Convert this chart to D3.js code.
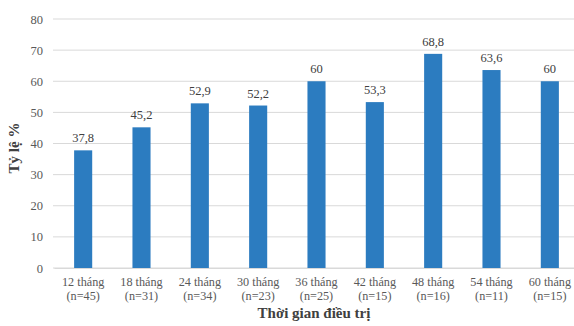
<!DOCTYPE html>
<html><head><meta charset="utf-8">
<script src="https://cdn.jsdelivr.net/npm/d3@7"></script>
<style>body{margin:0;background:#fff}svg{display:block}text{font-family:"Liberation Serif","Times New Roman",serif}</style>
</head><body>
<svg id="c" width="574" height="326"></svg>
<script>
const months = ["12 tháng","18 tháng","24 tháng","30 tháng","36 tháng","42 tháng","48 tháng","54 tháng","60 tháng"];
const counts = ["(n=45)","(n=31)","(n=34)","(n=23)","(n=25)","(n=15)","(n=16)","(n=11)","(n=15)"];
const values = [37.8,45.2,52.9,52.2,60,53.3,68.8,63.6,60];
const yTicks = [0,10,20,30,40,50,60,70,80];
const yTitle = "Tỷ lệ %";
const xTitle = "Thời gian điều trị";

const svg = d3.select("#c");
const font = "Liberation Serif, Times New Roman, serif";
const x = d3.scaleBand().domain(months).range([54,579]).paddingInner(0.69).paddingOuter(0.345);
const y = d3.scaleLinear().domain([0,80]).range([268,19]);

// grid
svg.append("g").selectAll("line").data(yTicks).join("line")
  .attr("x1",53).attr("x2",574).attr("y1",d=>y(d)).attr("y2",d=>y(d))
  .attr("stroke","#d9d9d9").attr("stroke-width",1);

// y axis labels
const ya = svg.append("g").attr("transform","translate(53,0)")
  .call(d3.axisLeft(y).tickValues(yTicks).tickSize(0).tickPadding(10).tickFormat(d3.format("d")));
ya.attr("font-family",font);
ya.select(".domain").remove();
ya.selectAll("text").attr("font-family",font).attr("font-size",12.5).attr("fill","#595959");

// bars
svg.append("g").selectAll("rect").data(values).join("rect")
  .attr("x",(d,i)=>x(months[i])).attr("width",x.bandwidth())
  .attr("y",d=>y(d)).attr("height",d=>y(0)-y(d)).attr("fill","#2c7cc0");

// value labels
svg.append("g").selectAll("text").data(values).join("text")
  .attr("x",(d,i)=>x(months[i])+x.bandwidth()/2).attr("y",d=>y(d)-8)
  .attr("text-anchor","middle").attr("font-family",font).attr("font-size",12.5).attr("fill","#404040")
  .text(d=>String(d).replace(".",","));

// x axis labels (two lines, separate text elements)
const xa = svg.append("g").attr("transform","translate(0,268)")
  .call(d3.axisBottom(x).tickSize(0).tickFormat(()=>""));
xa.attr("font-family",font);
xa.select(".domain").attr("stroke","#d9d9d9");
xa.selectAll(".tick text").remove();
xa.selectAll(".tick").each(function(d,i){
  const g=d3.select(this);
  g.append("text").attr("y",18).attr("text-anchor","middle").attr("font-family",font).attr("font-size",12.2).attr("fill","#595959").text(months[i]);
  g.append("text").attr("y",31.5).attr("text-anchor","middle").attr("font-family",font).attr("font-size",12.2).attr("fill","#595959").text(counts[i]);
});

// titles
svg.append("text").attr("x",314).attr("y",318).attr("text-anchor","middle")
  .attr("font-family",font).attr("font-weight","bold").attr("font-size",15).attr("fill","#404040").text(xTitle);
svg.append("text").attr("transform","translate(19,148) rotate(-90)").attr("text-anchor","middle")
  .attr("font-family",font).attr("font-weight","bold").attr("font-size",15).attr("fill","#404040").text(yTitle);
</script>
</body></html>
